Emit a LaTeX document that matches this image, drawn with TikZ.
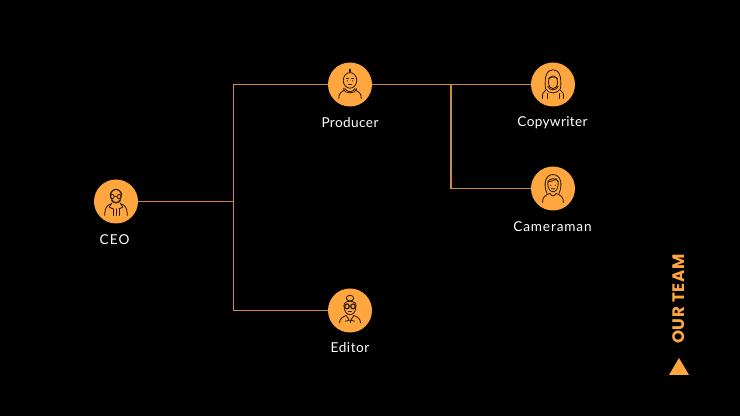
\documentclass[tikz,border=0pt]{standalone}
\usepackage{fontspec}
\setmainfont{Lato}
\newfontfamily\teamfont[LetterSpace=4]{Poppins}
\definecolor{accent}{HTML}{FFA63E}
\definecolor{wire}{HTML}{D08A3C}
\definecolor{ink}{HTML}{2A1A08}
\tikzset{
  person/.style={circle,fill=accent,minimum size=33pt,inner sep=0pt},
  role/.style={text=white,font=\fontsize{10.2pt}{12pt}\selectfont,anchor=center},
  wireline/.style={draw=wire,line width=0.8pt},
  iconline/.style={draw=ink,line width=0.62pt,line cap=round,line join=round,xscale=0.75,yscale=0.82}
}
\begin{document}
\begin{tikzpicture}[x=0.75pt,y=-0.75pt]
\useasboundingbox (0,0) rectangle (740,416);
\fill[black] (0,0) rectangle (740,416);
\coordinate (busmid) at (233.5,201.5);
\coordinate (busjoin) at (451,84.5);
\node[person] (ceo) at (116,201.5) {};
\node[person] (producer) at (350,84.5) {};
\node[person] (editor) at (350,310.5) {};
\node[person] (copy) at (553,84.5) {};
\node[person] (camera) at (553,188.5) {};
\draw[wireline] (ceo) -- (busmid);
\draw[wireline] (producer.west) -| (busmid) |- (editor.west);
\draw[wireline] (producer.east) -- (copy.west);
\draw[wireline] (busjoin) |- (camera.west);
\node[role] (ceolabel) at (114.5,240) {\addfontfeatures{LetterSpace=8}CEO};
\node[role] (producerlabel) at (350,122.5) {\addfontfeatures{LetterSpace=3}Producer};
\node[role] (editorlabel) at (350,348) {\addfontfeatures{LetterSpace=4}Editor};
\node[role] (copylabel) at (552.5,122.5) {\addfontfeatures{LetterSpace=2.5}Copywriter};
\node[role] (cameralabel) at (552.5,227) {\addfontfeatures{LetterSpace=6.5}Cameraman};
\node[text=accent,rotate=90,font=\fontsize{12.5pt}{14pt}\selectfont] (team) at (679,299) {\teamfont\bfseries OUR TEAM};
\fill[accent] (679,358) -- (689,375) -- (669,375) -- cycle;
% CEO
\begin{scope}[shift={(ceo.center)},iconline]
 \draw (0,-7) circle[x radius=7,y radius=8];
 \draw (-8,-8) .. controls (-6,-17) and (6,-17) .. (8,-8);
 \draw (-5,-6) circle (2.6) (4,-6) circle (2.6) (-2.4,-6) -- (1.4,-6);
 \draw (-6,-1) .. controls (-3,3) and (3,3) .. (6,-1);
 \draw (-15,17) .. controls (-15,6) and (-11,4) .. (-6,3);
 \draw (15,17) .. controls (15,6) and (11,4) .. (6,3);
 \draw (-6,2) -- (-9,7) -- (-4,9) (6,2) -- (9,7) -- (4,9);
 \draw (-4,17) -- (-4,9) (0,17) -- (0,9) (4,17) -- (4,9);
\end{scope}
% Producer
\begin{scope}[shift={(producer.center)},iconline]
 \draw (0,-5) circle[x radius=9,y radius=9.5];
 \draw (0,-14.5) .. controls (-2,-16) and (-1,-18) .. (0,-19) .. controls (1,-18) and (2,-16) .. (0,-14.5);
 \draw (-5,-7) -- (-2,-7) (2,-7) -- (5,-7) (-2,0) -- (2,0);
 \fill[ink] (-3.5,-4.5) circle (0.8) (3.5,-4.5) circle (0.8);
 \draw (-7,5) .. controls (-3,10) and (3,10) .. (7,5);
 \draw (-9,5) .. controls (-8,12) and (8,12) .. (9,5);
 \draw (-15,17) .. controls (-15,11) and (-12,9) .. (-8,7);
 \draw (15,17) .. controls (15,11) and (12,9) .. (8,7);
\end{scope}
% Copywriter
\begin{scope}[shift={(copy.center)},iconline]
 \draw (-10,5) .. controls (-12,-10) and (-8,-18) .. (0,-18) .. controls (8,-18) and (12,-10) .. (10,5);
 \draw (-6,-3) .. controls (-6,-13) and (6,-13) .. (6,-3) .. controls (6,3) and (3,5) .. (0,5) .. controls (-3,5) and (-6,3) .. (-6,-3);
 \draw (-6,-7) .. controls (-2,-10) and (3,-10) .. (6,-7);
 \draw (-10,5) .. controls (-6,12) and (6,12) .. (10,5);
 \draw (-7,2) .. controls (-5,8) and (5,8) .. (7,2);
 \draw (-14,17) .. controls (-15,12) and (-13,9) .. (-10,7);
 \draw (14,17) .. controls (15,12) and (13,9) .. (10,7);
 \draw (-8,17) -- (-8,11) (8,17) -- (8,11);
\end{scope}
% Cameraman
\begin{scope}[shift={(camera.center)},iconline]
 \draw (-7,-6) .. controls (-7,-14) and (7,-14) .. (7,-6) .. controls (7,1) and (3,4) .. (0,4) .. controls (-3,4) and (-7,1) .. (-7,-6);
 \draw (-7,-8) .. controls (-3,-8) and (2,-10) .. (4,-12) .. controls (5,-10) and (6,-9) .. (7,-8);
 \draw (-8,6) .. controls (-13,-4) and (-11,-17) .. (0,-17) .. controls (11,-17) and (13,-4) .. (8,6);
 \fill[ink] (-3,-4) circle (0.8) (3,-4) circle (0.8);
 \draw (-2,0) .. controls (-1,1) and (1,1) .. (2,0);
 \draw (-14,17) .. controls (-14,10) and (-10,8) .. (-4,6) .. controls (-2,10) and (2,10) .. (4,6) .. controls (10,8) and (14,10) .. (14,17);
\end{scope}
% Editor
\begin{scope}[shift={(editor.center)},iconline]
 \draw (0,-15) circle[x radius=5,y radius=3.5];
 \draw (-8,-6) .. controls (-9,-13) and (9,-13) .. (8,-6);
 \draw (-8,-6) .. controls (-8,2) and (-4,5) .. (0,5) .. controls (4,5) and (8,2) .. (8,-6);
 \draw[line width=0.9pt] (-4,-5) circle (3) (4,-5) circle (3) (-1,-5) -- (1,-5);
 \draw (-2,1) -- (2,1);
 \draw (-14,15) .. controls (-14,10) and (-10,8) .. (-5,6) -- (-1,12) -- (-6,13);
 \draw (14,15) .. controls (14,10) and (10,8) .. (5,6) -- (1,12) -- (6,13);
 \draw (0,12) -- (0,15);
\end{scope}
\end{tikzpicture}
\end{document}
